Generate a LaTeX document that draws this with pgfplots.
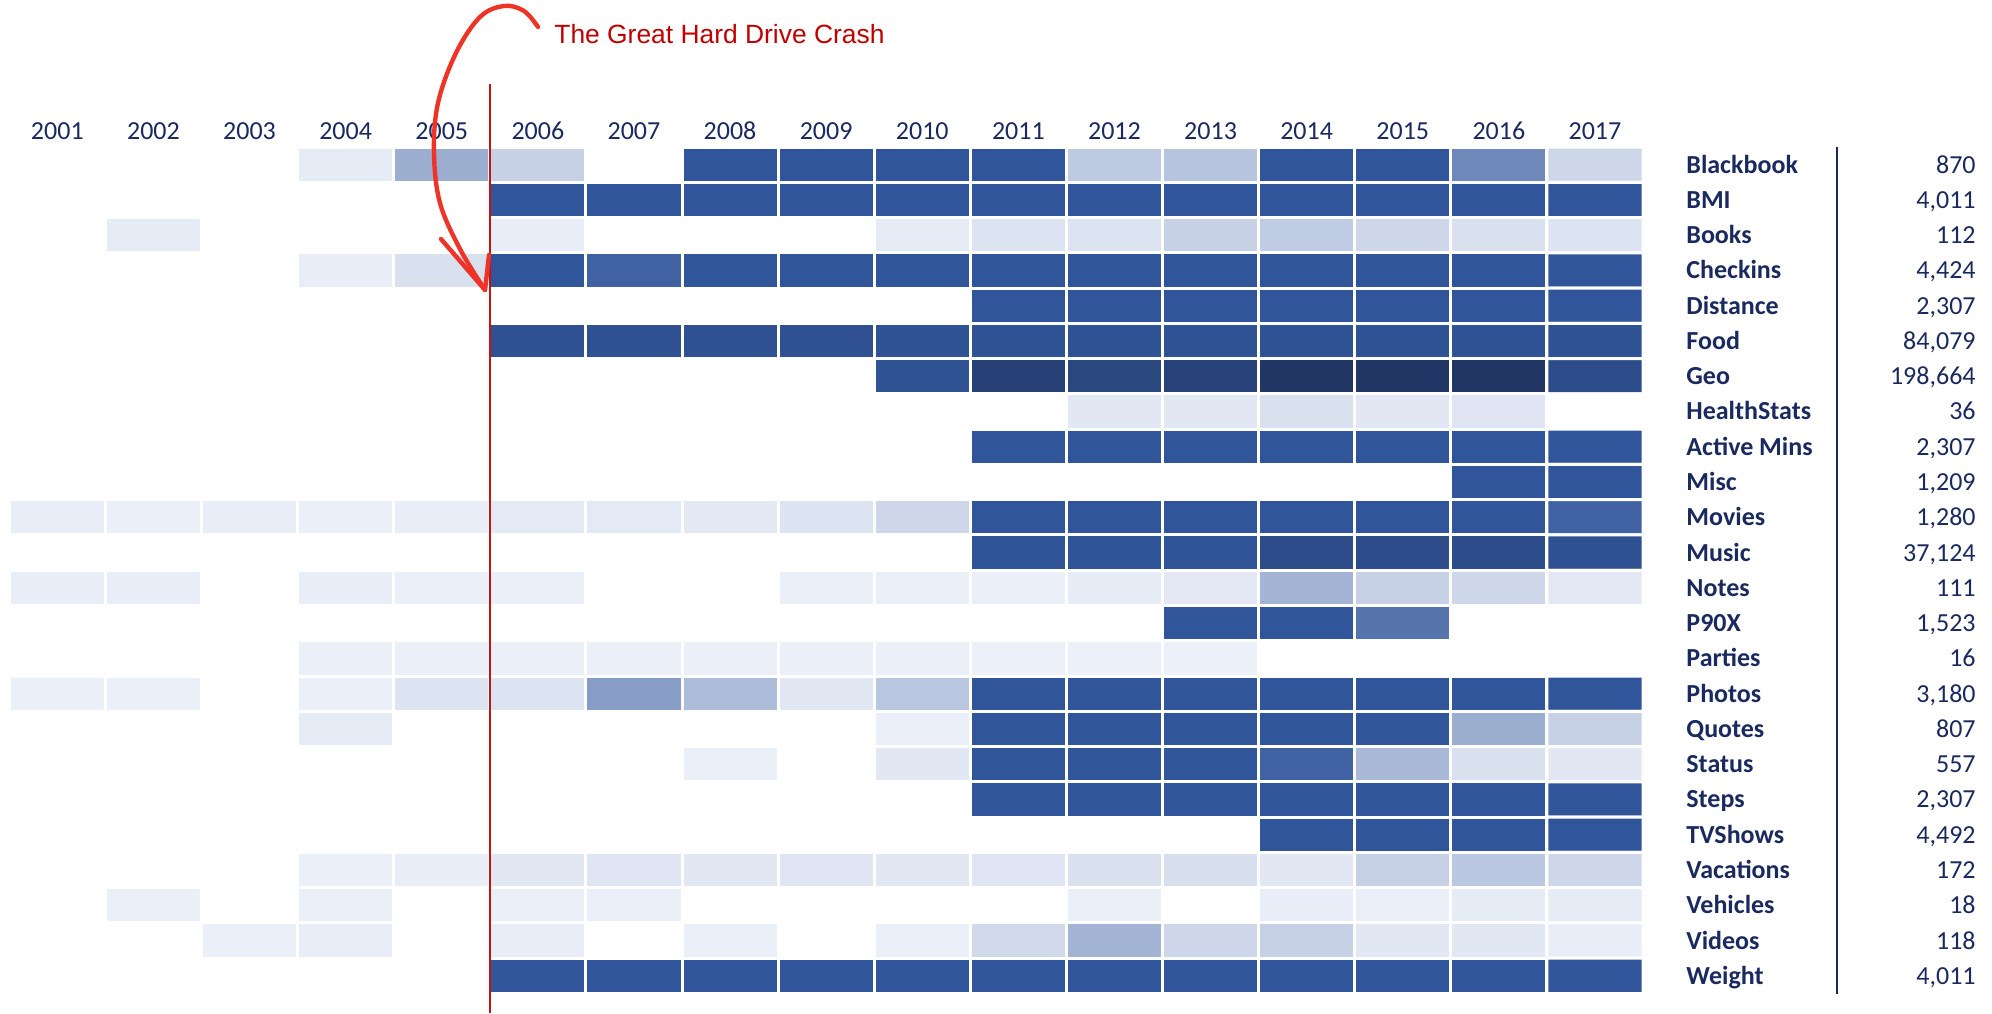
\documentclass[border=0pt]{standalone}
\usepackage{pgfplots}
\pgfplotsset{compat=1.18}
\usepackage{fontspec}
\setmainfont{Carlito}
\newfontfamily\arialf{Liberation Sans}
\definecolor{navy}{RGB}{26,42,94}
\definecolor{titlered}{RGB}{192,0,0}
\definecolor{arrowred}{RGB}{238,52,38}
\definecolor{linered}{RGB}{200,18,18}
\begin{document}
\begin{tikzpicture}
\path[use as bounding box] (0,0) rectangle (996pt,506.5pt);
\begin{axis}[
  at={(4.65pt,9.75pt)}, anchor=south west,
  width=816.85pt, height=423.25pt, scale only axis,
  xmin=0.5, xmax=17.5, ymin=0.5, ymax=24.5, y dir=reverse,
  clip=false,
  axis line style={draw=none}, tick style={draw=none},
  major tick length=0pt,
  xtick={1,2,3,4,5,6,7,8,9,10,11,12,13,14,15,16,17},
  xticklabels={2001,2002,2003,2004,2005,2006,2007,2008,2009,2010,2011,2012,2013,2014,2015,2016,2017},
  xticklabel pos=upper,
  xticklabel style={anchor=base, inner sep=0pt, yshift=4pt, font=\fontsize{13}{15}\selectfont, text=navy},
  ytick={1,2,3,4,5,6,7,8,9,10,11,12,13,14,15,16,17,18,19,20,21,22,23,24},
  yticklabels={Blackbook,BMI,Books,Checkins,Distance,Food,Geo,HealthStats,Active Mins,Misc,Movies,Music,Notes,P90X,Parties,Photos,Quotes,Status,Steps,TVShows,Vacations,Vehicles,Videos,Weight},
  yticklabel pos=right,
  yticklabel style={anchor=base west, inner sep=0pt, xshift=21.5pt, yshift=-4.2pt, font=\bfseries\fontsize{13}{15}\selectfont, text=navy},
  colormap={heat}{rgb255(0pt)=(255,255,255); rgb255(1pt)=(238,242,250); rgb255(100pt)=(49,85,154); rgb255(130pt)=(32,52,95)},
  point meta min=0, point meta max=130,
]
\addplot[matrix plot, mesh/cols=17, mesh/rows=24, point meta=explicit, faceted color=white, draw=white, line width=1.5pt]
table[row sep=\\, meta=c] {
x y c\\
1 1 0\\ 2 1 0\\ 3 1 0\\ 4 1 5\\ 5 1 44\\ 6 1 22\\ 7 1 0\\ 8 1 100\\ 9 1 100\\ 10 1 100\\ 11 1 100\\ 12 1 26\\ 13 1 30\\ 14 1 100\\ 15 1 100\\ 16 1 68\\ 17 1 18\\
1 2 0\\ 2 2 0\\ 3 2 0\\ 4 2 0\\ 5 2 0\\ 6 2 100\\ 7 2 100\\ 8 2 100\\ 9 2 100\\ 10 2 100\\ 11 2 100\\ 12 2 100\\ 13 2 100\\ 14 2 100\\ 15 2 100\\ 16 2 100\\ 17 2 100\\
1 3 0\\ 2 3 5\\ 3 3 0\\ 4 3 0\\ 5 3 0\\ 6 3 4\\ 7 3 0\\ 8 3 0\\ 9 3 0\\ 10 3 5\\ 11 3 10\\ 12 3 10\\ 13 3 22\\ 14 3 25\\ 15 3 18\\ 16 3 12\\ 17 3 10\\
1 4 0\\ 2 4 0\\ 3 4 0\\ 4 4 4\\ 5 4 12\\ 6 4 100\\ 7 4 92\\ 8 4 100\\ 9 4 100\\ 10 4 100\\ 11 4 100\\ 12 4 100\\ 13 4 100\\ 14 4 100\\ 15 4 100\\ 16 4 100\\ 17 4 100\\
1 5 0\\ 2 5 0\\ 3 5 0\\ 4 5 0\\ 5 5 0\\ 6 5 0\\ 7 5 0\\ 8 5 0\\ 9 5 0\\ 10 5 0\\ 11 5 100\\ 12 5 100\\ 13 5 100\\ 14 5 100\\ 15 5 100\\ 16 5 100\\ 17 5 100\\
1 6 0\\ 2 6 0\\ 3 6 0\\ 4 6 0\\ 5 6 0\\ 6 6 104\\ 7 6 104\\ 8 6 104\\ 9 6 104\\ 10 6 102\\ 11 6 102\\ 12 6 102\\ 13 6 102\\ 14 6 102\\ 15 6 102\\ 16 6 102\\ 17 6 102\\
1 7 0\\ 2 7 0\\ 3 7 0\\ 4 7 0\\ 5 7 0\\ 6 7 0\\ 7 7 0\\ 8 7 0\\ 9 7 0\\ 10 7 102\\ 11 7 118\\ 12 7 113\\ 13 7 117\\ 14 7 128\\ 15 7 127\\ 16 7 128\\ 17 7 108\\
1 8 0\\ 2 8 0\\ 3 8 0\\ 4 8 0\\ 5 8 0\\ 6 8 0\\ 7 8 0\\ 8 8 0\\ 9 8 0\\ 10 8 0\\ 11 8 0\\ 12 8 8\\ 13 8 8\\ 14 8 12\\ 15 8 8\\ 16 8 9\\ 17 8 0\\
1 9 0\\ 2 9 0\\ 3 9 0\\ 4 9 0\\ 5 9 0\\ 6 9 0\\ 7 9 0\\ 8 9 0\\ 9 9 0\\ 10 9 0\\ 11 9 100\\ 12 9 100\\ 13 9 100\\ 14 9 100\\ 15 9 100\\ 16 9 100\\ 17 9 100\\
1 10 0\\ 2 10 0\\ 3 10 0\\ 4 10 0\\ 5 10 0\\ 6 10 0\\ 7 10 0\\ 8 10 0\\ 9 10 0\\ 10 10 0\\ 11 10 0\\ 12 10 0\\ 13 10 0\\ 14 10 0\\ 15 10 0\\ 16 10 100\\ 17 10 100\\
1 11 4\\ 2 11 3\\ 3 11 4\\ 4 11 3\\ 5 11 4\\ 6 11 6\\ 7 11 6\\ 8 11 7\\ 9 11 10\\ 10 11 18\\ 11 11 100\\ 12 11 100\\ 13 11 100\\ 14 11 100\\ 15 11 100\\ 16 11 100\\ 17 11 92\\
1 12 0\\ 2 12 0\\ 3 12 0\\ 4 12 0\\ 5 12 0\\ 6 12 0\\ 7 12 0\\ 8 12 0\\ 9 12 0\\ 10 12 0\\ 11 12 101\\ 12 12 101\\ 13 12 101\\ 14 12 108\\ 15 12 108\\ 16 12 108\\ 17 12 104\\
1 13 4\\ 2 13 4\\ 3 13 0\\ 4 13 4\\ 5 13 3\\ 6 13 3\\ 7 13 0\\ 8 13 0\\ 9 13 3\\ 10 13 3\\ 11 13 3\\ 12 13 5\\ 13 13 7\\ 14 13 40\\ 15 13 22\\ 16 13 18\\ 17 13 7\\
1 14 0\\ 2 14 0\\ 3 14 0\\ 4 14 0\\ 5 14 0\\ 6 14 0\\ 7 14 0\\ 8 14 0\\ 9 14 0\\ 10 14 0\\ 11 14 0\\ 12 14 0\\ 13 14 100\\ 14 14 100\\ 15 14 80\\ 16 14 0\\ 17 14 0\\
1 15 0\\ 2 15 0\\ 3 15 0\\ 4 15 3\\ 5 15 3\\ 6 15 3\\ 7 15 3\\ 8 15 3\\ 9 15 3\\ 10 15 3\\ 11 15 2\\ 12 15 2\\ 13 15 2\\ 14 15 0\\ 15 15 0\\ 16 15 0\\ 17 15 0\\
1 16 3\\ 2 16 3\\ 3 16 0\\ 4 16 3\\ 5 16 10\\ 6 16 10\\ 7 16 55\\ 8 16 35\\ 9 16 8\\ 10 16 28\\ 11 16 100\\ 12 16 100\\ 13 16 100\\ 14 16 100\\ 15 16 100\\ 16 16 100\\ 17 16 100\\
1 17 0\\ 2 17 0\\ 3 17 0\\ 4 17 5\\ 5 17 0\\ 6 17 0\\ 7 17 0\\ 8 17 0\\ 9 17 0\\ 10 17 3\\ 11 17 100\\ 12 17 100\\ 13 17 100\\ 14 17 100\\ 15 17 100\\ 16 17 44\\ 17 17 22\\
1 18 0\\ 2 18 0\\ 3 18 0\\ 4 18 0\\ 5 18 0\\ 6 18 0\\ 7 18 0\\ 8 18 3\\ 9 18 0\\ 10 18 8\\ 11 18 100\\ 12 18 100\\ 13 18 100\\ 14 18 92\\ 15 18 37\\ 16 18 12\\ 17 18 8\\
1 19 0\\ 2 19 0\\ 3 19 0\\ 4 19 0\\ 5 19 0\\ 6 19 0\\ 7 19 0\\ 8 19 0\\ 9 19 0\\ 10 19 0\\ 11 19 100\\ 12 19 100\\ 13 19 100\\ 14 19 100\\ 15 19 100\\ 16 19 100\\ 17 19 100\\
1 20 0\\ 2 20 0\\ 3 20 0\\ 4 20 0\\ 5 20 0\\ 6 20 0\\ 7 20 0\\ 8 20 0\\ 9 20 0\\ 10 20 0\\ 11 20 0\\ 12 20 0\\ 13 20 0\\ 14 20 100\\ 15 20 100\\ 16 20 100\\ 17 20 100\\
1 21 0\\ 2 21 0\\ 3 21 0\\ 4 21 3\\ 5 21 4\\ 6 21 8\\ 7 21 9\\ 8 21 8\\ 9 21 9\\ 10 21 8\\ 11 21 9\\ 12 21 12\\ 13 21 13\\ 14 21 8\\ 15 21 22\\ 16 21 28\\ 17 21 18\\
1 22 0\\ 2 22 3\\ 3 22 0\\ 4 22 3\\ 5 22 0\\ 6 22 3\\ 7 22 3\\ 8 22 0\\ 9 22 0\\ 10 22 0\\ 11 22 0\\ 12 22 3\\ 13 22 0\\ 14 22 4\\ 15 22 3\\ 16 22 5\\ 17 22 5\\
1 23 0\\ 2 23 0\\ 3 23 3\\ 4 23 4\\ 5 23 0\\ 6 23 4\\ 7 23 0\\ 8 23 3\\ 9 23 0\\ 10 23 3\\ 11 23 16\\ 12 23 40\\ 13 23 18\\ 14 23 22\\ 15 23 8\\ 16 23 8\\ 17 23 4\\
1 24 0\\ 2 24 0\\ 3 24 0\\ 4 24 0\\ 5 24 0\\ 6 24 100\\ 7 24 100\\ 8 24 100\\ 9 24 100\\ 10 24 100\\ 11 24 100\\ 12 24 100\\ 13 24 100\\ 14 24 100\\ 15 24 100\\ 16 24 100\\ 17 24 100\\
};
% divider and totals
\draw[navy, line width=1pt] (axis cs:19.52,0.5) -- (axis cs:19.52,24.5);
\begin{scope}[every node/.style={anchor=base east, inner sep=0pt, yshift=-4.2pt, font=\fontsize{13}{15}\selectfont, text=navy}]
\node at (axis cs:20.965,1) {870};
\node at (axis cs:20.965,2) {4,011};
\node at (axis cs:20.965,3) {112};
\node at (axis cs:20.965,4) {4,424};
\node at (axis cs:20.965,5) {2,307};
\node at (axis cs:20.965,6) {84,079};
\node at (axis cs:20.965,7) {198,664};
\node at (axis cs:20.965,8) {36};
\node at (axis cs:20.965,9) {2,307};
\node at (axis cs:20.965,10) {1,209};
\node at (axis cs:20.965,11) {1,280};
\node at (axis cs:20.965,12) {37,124};
\node at (axis cs:20.965,13) {111};
\node at (axis cs:20.965,14) {1,523};
\node at (axis cs:20.965,15) {16};
\node at (axis cs:20.965,16) {3,180};
\node at (axis cs:20.965,17) {807};
\node at (axis cs:20.965,18) {557};
\node at (axis cs:20.965,19) {2,307};
\node at (axis cs:20.965,20) {4,492};
\node at (axis cs:20.965,21) {172};
\node at (axis cs:20.965,22) {18};
\node at (axis cs:20.965,23) {118};
\node at (axis cs:20.965,24) {4,011};
\end{scope}
% crash line
\draw[linered, line width=1pt] (axis cs:5.497,-1.29) -- (axis cs:5.497,25.05);
\end{axis}
% annotation
\node[anchor=west, inner sep=0pt, text=titlered, font=\arialf\fontsize{13.2}{15}\selectfont] at (277pt,489.5pt) {The Great Hard Drive Crash};
\draw[arrowred, line width=2.2pt, line cap=round, line join=round]
  plot[smooth, tension=0.6] coordinates {(269pt,493pt) (262pt,501pt) (252pt,503.5pt) (240pt,498pt) (228pt,480pt) (219pt,455pt) (217pt,430pt) (220pt,405pt) (230pt,382pt) (242.5pt,361.5pt)};
\draw[arrowred, line width=2.2pt, line cap=round, line join=round]
  (220.5pt,387pt) -- (242.5pt,361.5pt) -- (244.5pt,379pt);
\end{tikzpicture}
\end{document}
